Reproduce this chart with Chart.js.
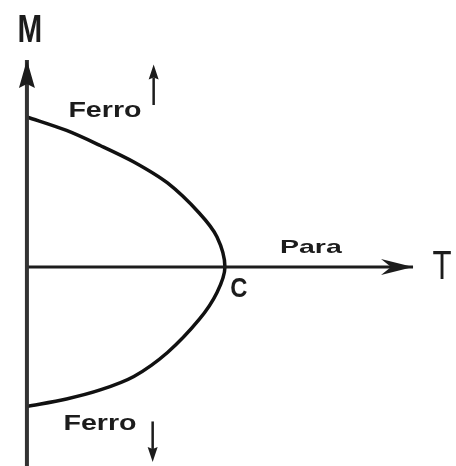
<!DOCTYPE html>
<html>
<head>
<meta charset="utf-8">
<title>M(T)</title>
<script src="https://cdn.jsdelivr.net/npm/chart.js@4/dist/chart.umd.min.js"></script>
<style>
  html, body { margin: 0; padding: 0; background: #fff; }
  #chart { display: block; }
</style>
</head>
<body>
<canvas id="chart" width="456" height="466"></canvas>
<script>
// magnetisation curve: upper branch, through C, lower branch
const curveT = [0, 0.2, 0.37, 0.54, 0.71, 0.87, 0.96, 1.0, 0.96, 0.87, 0.71, 0.54, 0.37, 0.2, 0];
const curveM = [1.0, 0.91, 0.81, 0.7, 0.56, 0.36, 0.2, 0, -0.17, -0.35, -0.57, -0.73, -0.82, -0.88, -0.93];

// axes (T along the bottom, M up the side)
const axisT = [0, 1.95];
const axisM = [-1.4, 1.38];
const axisNames = ['M', 'T'];
const phaseNames = ['Ferro', 'Para', 'Ferro'];
const pointName = 'C';

const ink = '#1c1c1c';

function toPoints(xs, ys) {
    return xs.map((x, i) => ({ x, y: ys[i] }));
}

function drawLabel(ctx, chart, text, t, m, size, bold, sx) {
    const px = chart.scales.x.getPixelForValue(t);
    const py = chart.scales.y.getPixelForValue(m);
    ctx.save();
    ctx.translate(px, py);
    ctx.scale(sx, 1);
    ctx.font = `${bold ? 'bold ' : ''}${size}px "Liberation Sans", Arial, sans-serif`;
    ctx.fillStyle = ink;
    ctx.textAlign = 'center';
    ctx.textBaseline = 'middle';
    ctx.fillText(text, 0, 0);
    ctx.restore();
}

// arrow from (t0,m0) to tip (t1,m1); shaft only drawn when width > 0
function drawArrow(ctx, chart, t0, m0, t1, m1, width, headLen, headHalf, notch) {
    const x0 = chart.scales.x.getPixelForValue(t0), y0 = chart.scales.y.getPixelForValue(m0);
    const x1 = chart.scales.x.getPixelForValue(t1), y1 = chart.scales.y.getPixelForValue(m1);
    const a = Math.atan2(y1 - y0, x1 - x0);
    const ux = Math.cos(a), uy = Math.sin(a);
    const bx = x1 - ux * headLen, by = y1 - uy * headLen;
    ctx.save();
    ctx.strokeStyle = ink;
    ctx.fillStyle = ink;
    if (width > 0) {
        ctx.lineWidth = width;
        ctx.beginPath();
        ctx.moveTo(x0, y0);
        ctx.lineTo(bx + ux * 2, by + uy * 2);
        ctx.stroke();
    }
    ctx.beginPath();
    ctx.moveTo(x1, y1);
    ctx.lineTo(bx - uy * headHalf, by + ux * headHalf);
    ctx.lineTo(bx + ux * notch, by + uy * notch);
    ctx.lineTo(bx + uy * headHalf, by - ux * headHalf);
    ctx.closePath();
    ctx.fill();
    ctx.restore();
}

const decorations = {
    id: 'decorations',
    afterDatasetsDraw(chart) {
        const ctx = chart.ctx;
        // axis arrowheads
        drawArrow(ctx, chart, 0, 0, 0, axisM[1], 0, 28, 8, 4);
        drawArrow(ctx, chart, 0, 0, axisT[1], 0, 0, 32, 8, 10);
        // spin direction arrows
        drawArrow(ctx, chart, 0.64, 1.08, 0.64, 1.35, 2.5, 15, 5, 2);
        drawArrow(ctx, chart, 0.635, -1.03, 0.635, -1.3, 2.5, 15, 5, 2);

        drawLabel(ctx, chart, axisNames[0], 0.015, 1.567, 38, true, 0.78);
        drawLabel(ctx, chart, axisNames[1], 2.096, -0.007, 40, false, 0.78);
        drawLabel(ctx, chart, phaseNames[0], 0.394, 1.04, 22, true, 1.3);
        drawLabel(ctx, chart, phaseNames[1], 1.434, 0.127, 19, true, 1.5);
        drawLabel(ctx, chart, phaseNames[2], 0.369, -1.047, 22, true, 1.3);
        drawLabel(ctx, chart, pointName, 1.07, -0.147, 28, true, 0.85);
    }
};

new Chart(document.getElementById('chart'), {
    type: 'scatter',
    data: {
        datasets: [
            {
                data: toPoints([0, 0], axisM),
                showLine: true, borderColor: '#333', borderWidth: 4, pointRadius: 0
            },
            {
                data: toPoints(axisT, [0, 0]),
                showLine: true, borderColor: ink, borderWidth: 3, pointRadius: 0
            },
            {
                data: toPoints(curveT, curveM),
                showLine: true, borderColor: '#111', borderWidth: 3.5, pointRadius: 0, tension: 0.3
            }
        ]
    },
    options: {
        responsive: false,
        animation: false,
        layout: { padding: 0 },
        plugins: { legend: { display: false }, tooltip: { enabled: false } },
        scales: {
            x: { type: 'linear', display: false, min: -0.136, max: 2.167 },
            y: { type: 'linear', display: false, min: -1.327, max: 1.78 }
        }
    },
    plugins: [decorations]
});
</script>
</body>
</html>
